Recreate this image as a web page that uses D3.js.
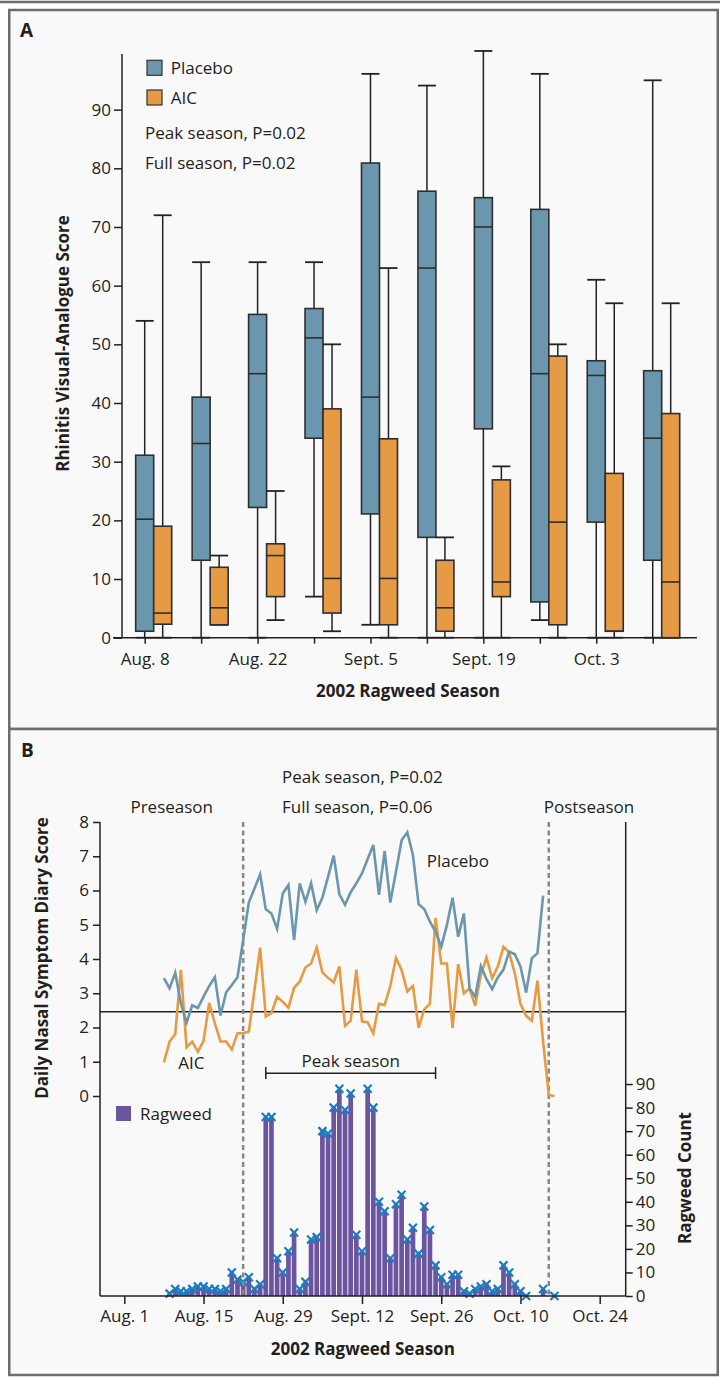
<!DOCTYPE html>
<html><head><meta charset="utf-8">
<script src="https://cdn.jsdelivr.net/npm/d3@7"></script>
<style>
body{margin:0;background:#fff;}
svg{display:block;font-family:"Open Sans",sans-serif;}
text{fill:#231f20;}
</style></head><body>
<svg id="c" width="720" height="1377"></svg>
<script>
// ---------- Panel A data ----------
const weeks = ["Aug. 8","Aug. 15","Aug. 22","Aug. 29","Sept. 5","Sept. 12","Sept. 19","Sept. 26","Oct. 3","Oct. 10"];
const weekTickLabels = ["Aug. 8","","Aug. 22","","Sept. 5","","Sept. 19","","Oct. 3",""];
const placeboMin = [0,0,0,7,2.2,0,0,3,0,0];
const placeboQ1  = [1.1,13.2,22.2,34,21.1,17.1,35.6,6.1,19.7,13.2];
const placeboMed = [20.2,33.1,45,51.1,41,63,70,45,44.7,34];
const placeboQ3  = [31.1,41,55.1,56.1,80.9,76.1,75,73,47.2,45.5];
const placeboMax = [54,64,64,64,96.1,94.1,100,96.1,61,95];
const aicMin = [0,2.2,3,1.1,0,0,0,0,0,0];
const aicQ1  = [2.3,2.2,7,4.2,2.2,1.1,7,2.2,1.1,0];
const aicMed = [4.2,5.1,14,10.1,10.1,5.1,9.5,19.7,1.1,9.5];
const aicQ3  = [19,12,16,39,33.9,13.2,26.9,48,28,38.2];
const aicMax = [72,14,25,50,63,17.1,29.2,50,57,57];
const scoreTicksA = [0,10,20,30,40,50,60,70,80,90];

// ---------- Panel B data ----------
const diaryStart = "2002-08-08";
const placeboDiary = [3.44,3.14,3.60,2.7,2.14,2.65,2.57,2.90,3.21,3.47,
  2.35,3.03,3.24,3.47,4.55,5.65,6.06,6.47,5.45,5.33,
  4.88,5.91,6.16,4.55,6.21,5.67,6.21,5.43,5.79,6.40,
  7.02,5.89,5.58,5.95,6.21,6.50,6.92,7.33,5.87,7.15,
  5.65,6.55,7.47,7.70,7.04,5.60,5.46,5.09,4.80,4.36,
  4.99,5.79,4.65,5.33,3.14,2.90,3.79,3.41,3.12,3.46,
  3.69,4.22,4.14,3.78,3.02,4.02,4.17,5.85];
const aicDiary = [0.98,1.59,1.81,3.68,1.42,1.59,1.29,1.61,2.72,2.12,
  1.59,1.59,1.36,1.83,1.83,1.88,3.1,4.33,2.32,2.42,
  2.90,2.75,2.58,3.16,3.34,3.75,3.87,4.33,3.61,3.45,
  3.32,3.78,2.05,2.2,3.69,2.18,2.15,1.83,2.69,2.66,
  3.21,4.03,3.68,3.05,3.21,1.99,2.53,2.69,5.20,3.87,
  3.87,1.99,3.85,3.00,3.14,2.63,3.53,4.04,3.44,3.78,
  4.36,4.19,3.58,2.69,2.34,2.20,3.37,1.59,0.03,0.0];
// days after Aug. 1
const ragweedDay = [8,9,10,11,12,13,14,15,16,17,18,19,20,21,22,23,24,25,26,27,28,29,30,31,32,33,34,35,36,37,38,39,40,41,42,43,44,45,46,47,48,49,50,51,52,53,54,55,56,57,58,59,60,61,62,63,64,65,66,67,68,69,70,71,74,76];
const ragweedCount = [1,3,2,2,3,4,4,3,3,2,3,10,7,6,8,3,5,76,76,16,10,19,27,3,6,24,25,70,69,80,88,79,86,26,19,88,80,40,36,16,39,43,24,29,18,38,28,13,8,5,9,9,2,1,3,4,5,2,3,13,10,5,2,0,3,0];
const diaryTicks = [0,1,2,3,4,5,6,7,8];
const countTicks = [0,10,20,30,40,50,60,70,80,90];
const dateTicks = ["2002-08-01","2002-08-15","2002-08-29","2002-09-12","2002-09-26","2002-10-10","2002-10-24"];
const dateTickLabels = ["Aug. 1","Aug. 15","Aug. 29","Sept. 12","Sept. 26","Oct. 10","Oct. 24"];
const preseasonEnd = "2002-08-22", postseasonStart = "2002-10-15";
const peakStart = "2002-08-26", peakEnd = "2002-09-25";
const referenceScore = 2.46;

const C_PLA = "#6a97ad", C_AIC = "#e69a44", C_RAG = "#6b55a0", C_X = "#1a7dc0";
const INK = "#231f20", FRAME = "#6d6d6d";
const FS = "17px";
const parse = d3.timeParse("%Y-%m-%d");
const svg = d3.select("#c");

// frames
svg.append("line").attr("x1",0).attr("x2",720).attr("y1",2).attr("y2",2).attr("stroke",FRAME).attr("stroke-width",2.5);
svg.append("rect").attr("x",9.25).attr("y",10).attr("width",708.5).attr("height",719).attr("fill","#f9f9f9").attr("stroke",FRAME).attr("stroke-width",2.5);
svg.append("rect").attr("x",9.25).attr("y",729).attr("width",708.5).attr("height",646).attr("fill","#f9f9f9").attr("stroke",FRAME).attr("stroke-width",2.5);

function styleAxis(g){
  g.select(".domain").remove();
  g.selectAll(".tick line").attr("stroke",INK).attr("stroke-width",1.5);
  g.selectAll(".tick text").attr("fill",INK).style("font-size",FS).style("font-family","'Open Sans',sans-serif");
}

// ================= Panel A =================
const A = svg.append("g");
A.append("text").attr("x",20).attr("y",37).text("A").style("font-weight","700").style("font-size","19px");
const yA = d3.scaleLinear().domain([0,99.5]).range([637.7,53.9]);
const xA = d3.scalePoint().domain(weeks).range([144.7,652.7]);

A.append("g").attr("transform","translate(122,0)")
  .call(d3.axisLeft(yA).tickValues(scoreTicksA).tickSize(8).tickPadding(3).tickSizeOuter(0))
  .call(styleAxis);
A.append("line").attr("x1",122).attr("x2",122).attr("y1",yA(0)).attr("y2",yA(99.5)).attr("stroke",INK).attr("stroke-width",1.5);
A.append("g").attr("transform","translate(0,637.7)")
  .call(d3.axisBottom(xA).tickSize(6).tickPadding(9).tickSizeOuter(0).tickFormat((d,i)=>weekTickLabels[i]))
  .call(styleAxis);
A.append("line").attr("x1",113).attr("x2",697).attr("y1",yA(0)).attr("y2",yA(0)).attr("stroke",INK).attr("stroke-width",1.5);

const series = [
  {color:C_PLA, off:0, min:placeboMin, q1:placeboQ1, med:placeboMed, q3:placeboQ3, max:placeboMax},
  {color:C_AIC, off:18, min:aicMin, q1:aicQ1, med:aicMed, q3:aicQ3, max:aicMax}
];
const hw = 9;
series.forEach(s=>{
  weeks.forEach((w,i)=>{
    const cx = xA(w)+s.off;
    const g = A.append("g");
    g.append("line").attr("x1",cx).attr("x2",cx).attr("y1",yA(s.q3[i])).attr("y2",yA(s.max[i])).attr("stroke","#222").attr("stroke-width",1.5);
    g.append("line").attr("x1",cx).attr("x2",cx).attr("y1",yA(s.q1[i])).attr("y2",yA(s.min[i])).attr("stroke","#222").attr("stroke-width",1.5);
    g.append("line").attr("x1",cx-hw).attr("x2",cx+hw).attr("y1",yA(s.max[i])).attr("y2",yA(s.max[i])).attr("stroke","#222").attr("stroke-width",1.8);
    g.append("line").attr("x1",cx-hw).attr("x2",cx+hw).attr("y1",yA(s.min[i])).attr("y2",yA(s.min[i])).attr("stroke","#222").attr("stroke-width",1.8);
    g.append("rect").attr("x",cx-hw).attr("y",yA(s.q3[i])).attr("width",2*hw).attr("height",yA(s.q1[i])-yA(s.q3[i]))
      .attr("fill",s.color).attr("stroke","#2e2e2e").attr("stroke-width",1.6);
    g.append("line").attr("x1",cx-hw).attr("x2",cx+hw).attr("y1",yA(s.med[i])).attr("y2",yA(s.med[i])).attr("stroke","#2e2e2e").attr("stroke-width",1.6);
  });
});

// legend A
[["Placebo",C_PLA,60.3],["AIC",C_AIC,90]].forEach(([t,c,y])=>{
  A.append("rect").attr("x",147).attr("y",y).attr("width",15).attr("height",15).attr("fill",c).attr("stroke","#333").attr("stroke-width",1.2);
  A.append("text").attr("x",170.7).attr("y",y+13.8).text(t).style("font-size",FS);
});
A.append("text").attr("x",145).attr("y",139.3).text("Peak season, P=0.02").style("font-size",FS);
A.append("text").attr("x",145).attr("y",169).text("Full season, P=0.02").style("font-size",FS);
A.append("text").attr("transform","translate(69,343.5) rotate(-90)").attr("text-anchor","middle")
  .text("Rhinitis Visual-Analogue Score").style("font-weight","700").style("font-size",FS);
A.append("text").attr("x",408).attr("y",696.7).attr("text-anchor","middle")
  .text("2002 Ragweed Season").style("font-weight","700").style("font-size",FS);

// ================= Panel B =================
const B = svg.append("g");
B.append("text").attr("x",21).attr("y",757).text("B").style("font-weight","700").style("font-size","19px");
const xB = d3.scaleTime().domain([parse("2002-08-01"),parse("2002-10-24")]).range([124.3,599.7]);
const yL = d3.scaleLinear().domain([0,8]).range([1096,822]);
const yR = d3.scaleLinear().domain([0,90]).range([1296,1084.05]);
const start = parse(diaryStart);
const day0 = parse("2002-08-01");

// bars
const rag = ragweedDay.map((d,i)=>({date:d3.timeDay.offset(day0,d), v:ragweedCount[i]}));
const bw = 4.7;
B.append("g").selectAll("rect").data(rag).join("rect")
  .attr("x",d=>xB(d.date)-bw/2).attr("width",bw)
  .attr("y",d=>yR(d.v)).attr("height",d=>yR(0)-yR(d.v)).attr("fill",C_RAG);
B.append("g").selectAll("path").data(rag).join("path")
  .attr("d","M-4,-4L4,4M-4,4L4,-4")
  .attr("transform",d=>`translate(${xB(d.date)},${yR(d.v)})`)
  .attr("stroke",C_X).attr("stroke-width",2.2).attr("fill","none");

// axes
B.append("g").attr("transform","translate(100,0)")
  .call(d3.axisLeft(yL).tickValues(diaryTicks).tickSize(7).tickPadding(4))
  .call(styleAxis);
B.append("line").attr("x1",100).attr("x2",100).attr("y1",822).attr("y2",1296).attr("stroke",INK).attr("stroke-width",1.5);
B.append("g").attr("transform","translate(625.7,0)")
  .call(d3.axisRight(yR).tickValues(countTicks).tickSize(7).tickPadding(3))
  .call(styleAxis);
B.append("line").attr("x1",625.7).attr("x2",625.7).attr("y1",822).attr("y2",1296).attr("stroke",INK).attr("stroke-width",1.5);
B.append("g").attr("transform","translate(0,1296)")
  .call(d3.axisBottom(xB).tickValues(dateTicks.map(parse)).tickSize(8).tickPadding(6).tickFormat((d,i)=>dateTickLabels[i]))
  .call(styleAxis);
B.append("line").attr("x1",100).attr("x2",625.7).attr("y1",1296).attr("y2",1296).attr("stroke",INK).attr("stroke-width",1.5);

// reference line
B.append("line").attr("x1",100).attr("x2",625.7).attr("y1",yL(referenceScore)).attr("y2",yL(referenceScore)).attr("stroke",INK).attr("stroke-width",1.5);

// dashed season lines
[preseasonEnd, postseasonStart].forEach(d=>{
  B.append("line").attr("x1",xB(parse(d))).attr("x2",xB(parse(d))).attr("y1",822).attr("y2",1296)
    .attr("stroke","#888").attr("stroke-width",2.5).attr("stroke-dasharray","5,3.5");
});

// lines
const line = d3.line().x((d,i)=>xB(d3.timeDay.offset(start,i))).y(d=>yL(d));
B.append("path").attr("d",line(aicDiary)).attr("fill","none").attr("stroke",C_AIC).attr("stroke-width",2.6).attr("stroke-linejoin","miter");
B.append("path").attr("d",line(placeboDiary)).attr("fill","none").attr("stroke",C_PLA).attr("stroke-width",2.6).attr("stroke-linejoin","miter");

// peak bracket
const px1 = xB(parse(peakStart)), px2 = xB(parse(peakEnd));
B.append("line").attr("x1",px1).attr("x2",px2).attr("y1",1073.3).attr("y2",1073.3).attr("stroke",INK).attr("stroke-width",1.5);
[px1,px2].forEach(x=>B.append("line").attr("x1",x).attr("x2",x).attr("y1",1067).attr("y2",1079).attr("stroke",INK).attr("stroke-width",1.5));
B.append("text").attr("x",(px1+px2)/2).attr("y",1067).attr("text-anchor","middle").text("Peak season").style("font-size",FS);

// texts
B.append("text").attr("x",282).attr("y",783.3).text("Peak season, P=0.02").style("font-size",FS);
B.append("text").attr("x",282).attr("y",813.3).text("Full season, P=0.06").style("font-size",FS);
B.append("text").attr("x",171.7).attr("y",813.3).attr("text-anchor","middle").text("Preseason").style("font-size",FS);
B.append("text").attr("x",543.7).attr("y",813.3).text("Postseason").style("font-size",FS);
B.append("text").attr("x",426.7).attr("y",866.7).text("Placebo").style("font-size",FS);
B.append("text").attr("x",178.3).attr("y",1069.3).text("AIC").style("font-size",FS);
B.append("rect").attr("x",116).attr("y",1106).attr("width",15).attr("height",15).attr("fill",C_RAG);
B.append("text").attr("x",140).attr("y",1119.5).text("Ragweed").style("font-size",FS);
B.append("text").attr("transform","translate(48,958) rotate(-90)").attr("text-anchor","middle")
  .text("Daily Nasal Symptom Diary Score").style("font-weight","700").style("font-size",FS);
B.append("text").attr("transform","translate(691,1178) rotate(-90)").attr("text-anchor","middle")
  .text("Ragweed Count").style("font-weight","700").style("font-size",FS);
B.append("text").attr("x",362.8).attr("y",1355).attr("text-anchor","middle")
  .text("2002 Ragweed Season").style("font-weight","700").style("font-size",FS);
</script></body></html>
